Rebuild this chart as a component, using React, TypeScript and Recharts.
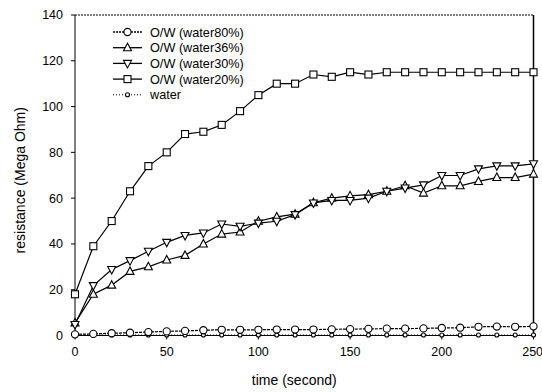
import React from "react";
import {
  LineChart,
  Line,
  XAxis,
  YAxis,
  Legend,
  ReferenceLine,
} from "recharts";

const times = [0, 10, 20, 30, 40, 50, 60, 70, 80, 90, 100, 110, 120, 130, 140, 150, 160, 170, 180, 190, 200, 210, 220, 230, 240, 250];

const water80 = [0.5, 0.7, 1, 1.2, 1.5, 1.8, 2, 2.3, 2.5, 2.5, 2.5, 2.6, 2.6, 2.6, 2.7, 2.8, 2.9, 3, 3, 3.1, 3.3, 3.4, 3.8, 3.9, 3.8, 4];
const water36 = [5.5, 18, 22, 28, 30, 33, 35, 40, 44.3, 45.2, 49.9, 51.8, 53, 58, 60, 61, 61.5, 63, 65.4, 62.2, 65.4, 65.4, 67.3, 69, 69, 70.5];
const water30 = [4.8, 21.8, 28.8, 32.7, 36.8, 40.7, 43.7, 44.8, 48.7, 47.7, 49.1, 49.9, 52.8, 57.9, 59, 59, 60, 63, 64.4, 65.8, 69.9, 69.9, 72.8, 74.1, 74.1, 75];
const water20 = [18, 39, 50, 63, 74, 80, 88, 89, 92, 98, 105, 110, 110, 114, 113, 115, 114, 115, 115, 115, 115, 115, 115, 115, 115, 115];
const waterOnly = [0.2, 0.2, 0.2, 0.2, 0.2, 0.2, 0.2, 0.2, 0.2, 0.2, 0.2, 0.2, 0.2, 0.2, 0.2, 0.2, 0.2, 0.2, 0.2, 0.2, 0.2, 0.2, 0.2, 0.2, 0.2, 0.2];

const xTicks = [0, 50, 100, 150, 200, 250];
const yTicks = [0, 20, 40, 60, 80, 100, 120, 140];

const data = times.map((t, i) => ({
  t,
  w80: water80[i],
  w36: water36[i],
  w30: water30[i],
  w20: water20[i],
  water: waterOnly[i],
}));

const FONT = "'Liberation Sans', Arial, sans-serif";

function Marker({ kind, cx, cy }: { kind: string; cx: number; cy: number }) {
  const common = { fill: "#fff", stroke: "#000", strokeWidth: 1.1 };
  if (kind === "circle") return <circle cx={cx} cy={cy} r={3.6} {...common} />;
  if (kind === "small") return <circle cx={cx} cy={cy} r={2} {...common} />;
  if (kind === "square") return <rect x={cx - 3.5} y={cy - 3.5} width={7} height={7} {...common} />;
  if (kind === "up")
    return <polygon points={`${cx},${cy - 4.5} ${cx - 4},${cy + 3} ${cx + 4},${cy + 3}`} {...common} />;
  return <polygon points={`${cx},${cy + 4.5} ${cx - 4},${cy - 3} ${cx + 4},${cy - 3}`} {...common} />;
}

const dotFor = (kind: string) => (props: any) =>
  <Marker key={`${kind}-${props.index}`} kind={kind} cx={props.cx} cy={props.cy} />;

const legendItems = [
  { label: "O/W (water80%)", kind: "circle", dash: "2 1" },
  { label: "O/W (water36%)", kind: "up", dash: undefined },
  { label: "O/W (water30%)", kind: "down", dash: undefined },
  { label: "O/W (water20%)", kind: "square", dash: undefined },
  { label: "water", kind: "small", dash: "1 2" },
];

function LegendBox() {
  return (
    <svg width={170} height={82} style={{ display: "block" }}>
      {legendItems.map((it, i) => {
        const y = 8 + i * 15.7;
        return (
          <g key={it.label}>
            <line x1={3} x2={32} y1={y} y2={y} stroke="#000" strokeWidth={it.kind === "small" ? 1 : 1.3} strokeDasharray={it.dash} />
            <Marker kind={it.kind} cx={17.5} cy={y} />
            <text x={40} y={y + 4.5} fontSize={12.7} fontFamily={FONT} fill="#000">
              {it.label}
            </text>
          </g>
        );
      })}
    </svg>
  );
}

export default function App() {
  return (
    <div style={{ position: "absolute", left: 0, top: 0, width: 542, height: 392, background: "#fff" }}>
      <LineChart width={542} height={392} data={data} margin={{ top: 15, right: 8.5, left: 0, bottom: 0 }}>
        <XAxis
          dataKey="t"
          type="number"
          domain={[0, 250]}
          ticks={xTicks}
          tickSize={4}
          tickMargin={8}
          height={56.5}
          stroke="#000"
          tick={{ fill: "#000", fontSize: 12.5, fontFamily: FONT }}
          label={{ value: "time (second)", position: "insideBottom", offset: 7, dx: -10, fill: "#000", fontSize: 14, fontFamily: FONT }}
        />
        <YAxis
          type="number"
          domain={[0, 140]}
          ticks={yTicks}
          tickSize={4}
          tickMargin={8}
          width={75}
          stroke="#000"
          tick={{ fill: "#000", fontSize: 12.5, fontFamily: FONT }}
          label={{ value: "resistance (Mega Ohm)", angle: -90, position: "center", dx: -17, dy: 5, fill: "#000", fontSize: 14, fontFamily: FONT }}
        />
        <ReferenceLine y={140} stroke="#000" strokeDasharray="2 1" />
        <ReferenceLine x={250} stroke="#000" strokeWidth={1.5} />
        <Legend
          layout="vertical"
          align="center"
          verticalAlign="middle"
          content={() => <LegendBox />}
          wrapperStyle={{ position: "absolute", left: 110, top: 24, width: 170, height: 82 }}
        />
        <Line dataKey="water" stroke="#000" strokeWidth={1} strokeDasharray="1 2" dot={dotFor("small")} isAnimationActive={false} />
        <Line dataKey="w80" stroke="#000" strokeWidth={1.2} strokeDasharray="3 1" dot={dotFor("circle")} isAnimationActive={false} />
        <Line dataKey="w36" stroke="#000" strokeWidth={1.2} dot={dotFor("up")} isAnimationActive={false} />
        <Line dataKey="w30" stroke="#000" strokeWidth={1.2} dot={dotFor("down")} isAnimationActive={false} />
        <Line dataKey="w20" stroke="#000" strokeWidth={1.2} dot={dotFor("square")} isAnimationActive={false} />
      </LineChart>
    </div>
  );
}
